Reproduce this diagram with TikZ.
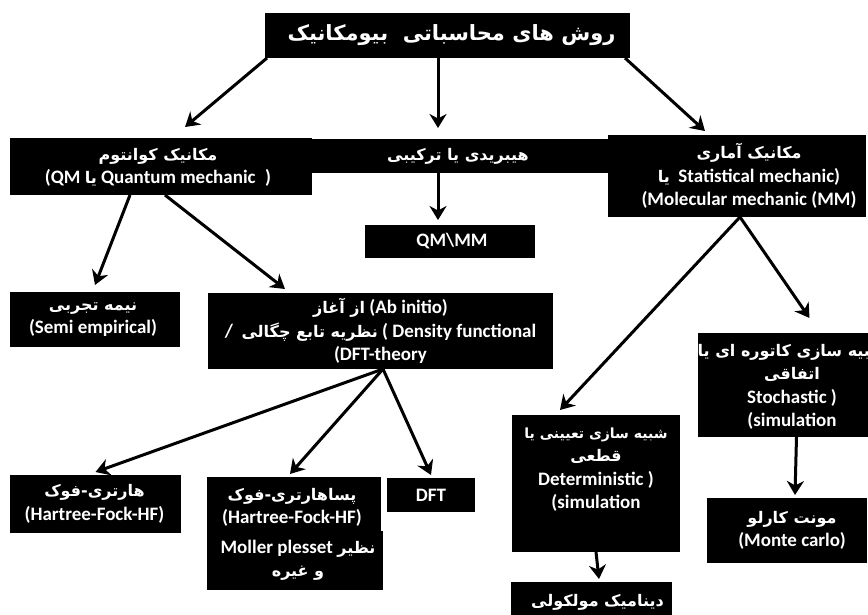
\documentclass[tikz,border=0pt]{standalone}
\usepackage{fontspec}
\setmainfont{Carlito}
\newfontfamily\arabicfont[Script=Arabic]{DejaVu Sans}
\TeXXeTstate=1
\usetikzlibrary{arrows.meta}
\newcommand\fa[1]{{\arabicfont\fontsize{16}{23.5}\selectfont\beginR #1\endR}}
\newcommand\fas[1]{{\arabicfont\fontsize{14}{23.5}\selectfont\beginR #1\endR}}
\newcommand\faT[1]{{\arabicfont\fontsize{21}{26}\selectfont\beginR #1\endR}}
\newcommand\bx[8]{%
  \node[box, minimum width={#4-#2}, minimum height={#5-#3}] (#1) at (#2,#3) {};
  \node[txt] (#1-t) at ([xshift=#6pt,yshift=#7pt]#1.center) {#8};}
\begin{document}
\begin{tikzpicture}[x=1pt,y=-1pt,
  box/.style={fill=black, draw=none, rectangle, inner sep=0pt, outer sep=0pt, anchor=north west},
  txt/.style={text=white, font=\bfseries\fontsize{19}{23.5}\selectfont, align=center, inner sep=0pt},
  arr/.style={line width=3pt, -{Stealth[length=14pt,width=17pt,inset=4.5pt]}}]
\useasboundingbox (0,0) rectangle (868,614);
\clip (0,0) rectangle (868,614);
\fill[white] (0,0) rectangle (868,614);

\bx{title}{265}{13}{630}{58}{4}{0}{\faT{روش های محاسباتی\ \ بیومکانیک}}
\bx{hyb}{310}{139}{610}{173}{-2}{0}{\fa{هیبریدی یا ترکیبی}}
\bx{qm}{10}{138}{312}{195}{-3}{-1}{\fa{مکانیک کوانتوم}\\(QM \fa{یا} Quantum mechanic\enspace)}
\bx{mm}{608}{135}{866}{217}{12}{0}{\fa{مکانیک آماری}\\\fa{یا}\ \ Statistical mechanic)\\(Molecular mechanic (MM)}
\bx{qmmm}{365}{225}{535}{258}{2}{0}{QM\textbackslash MM}
\bx{semi}{10}{292}{180}{347}{-2}{0}{\fa{نیمه تجربی}\\(Semi empirical)}
\bx{abi}{208}{293}{553}{369}{0}{0}{\fa{از آغاز} (Ab initio)\\/\ \ \fa{نظریه تابع چگالی} ( Density functional\\(DFT-theory}
\bx{stoch}{698}{333}{886}{437}{0}{-2}{\fa{شبیه سازی کاتوره ای یا}\\\fa{اتفاقی}\\Stochastic )\\(simulation}
\bx{det}{512}{415}{680}{552}{0}{14}{\fas{شبیه سازی تعیینی یا}\\\fa{قطعی}\\Deterministic )\\(simulation}
\bx{hf}{10}{475}{181}{533}{-1}{0}{\fa{هارتری-فوک}\\(Hartree-Fock-HF)}
\bx{phf}{207}{477}{381}{532}{-2}{-3}{\fa{پساهارتری-فوک}\\(Hartree-Fock-HF)}
\bx{mp}{207}{531}{383}{590}{3}{0}{Moller plesset \fa{نظیر}\\\fa{و غیره}}
\bx{dft}{387}{478}{475}{512}{0}{0}{DFT}
\bx{mc}{707}{498}{867}{563}{5}{0}{\fa{مونت کارلو}\\(Monte carlo)}
\bx{md}{511}{582}{672}{630}{6}{4}{\fa{دینامیک مولکولی}}

\draw[arr] ([xshift=2pt]title.south west) -- ([xshift=24pt,yshift=11pt]qm.north);
\draw[arr] ([xshift=-9.5pt]title.south) -- ([xshift=-22pt,yshift=11pt]hyb.north);
\draw[arr] ([xshift=-5pt]title.south east) -- ([xshift=-32pt,yshift=4pt]mm.north);
\draw[arr] ([xshift=-22pt]hyb.south) -- ([xshift=-12pt,yshift=5pt]qmmm.north);
\draw[arr] ([xshift=-31pt]qm.south) -- ([yshift=7pt]semi.north);
\draw[arr] ([xshift=4pt]qm.south) -- ([xshift=-95.5pt,yshift=4pt]abi.north);
\draw[arr] ([xshift=2.5pt]abi.south) -- ([yshift=3pt]hf.north);
\draw[arr] ([xshift=2.5pt]abi.south) -- ([xshift=-4pt,yshift=3pt]phf.north);
\draw[arr] ([xshift=2.5pt]abi.south) -- ([yshift=3pt]dft.north);
\draw[arr] ([xshift=3pt]mm.south) -- ([xshift=-36pt,yshift=5pt]det.north);
\draw[arr] ([xshift=3pt]mm.south) -- ([xshift=17.5pt,yshift=15pt]stoch.north);
\draw[arr] ([xshift=4.5pt]stoch.south) -- ([xshift=8pt,yshift=3pt]mc.north);
\draw[arr] (det.south) -- ([xshift=7.5pt,yshift=3pt]md.north);
\end{tikzpicture}
\end{document}
